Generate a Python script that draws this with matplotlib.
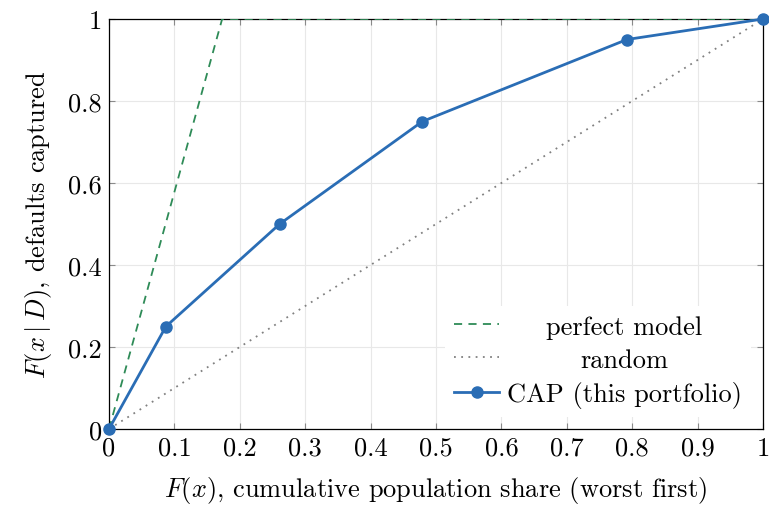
import matplotlib
matplotlib.use("Agg")
import matplotlib.pyplot as plt

# data
cap_x = [0.0, 0.087, 0.261, 0.479, 0.792, 1.0]
cap_y = [0.0, 0.25, 0.50, 0.75, 0.95, 1.0]
perfect_x = [0.0, 0.173, 1.0]
perfect_y = [0.0, 1.0, 1.0]
random_x = [0.0, 1.0]
random_y = [0.0, 1.0]
xticks = [0, 0.1, 0.2, 0.3, 0.4, 0.5, 0.6, 0.7, 0.8, 0.9, 1]
xticklabels = ["0", "0.1", "0.2", "0.3", "0.4", "0.5", "0.6", "0.7", "0.8", "0.9", "1"]
yticks = [0, 0.2, 0.4, 0.6, 0.8, 1]
yticklabels = ["0", "0.2", "0.4", "0.6", "0.8", "1"]
labels = ["perfect model", "random", "CAP (this portfolio)"]

plt.rcParams['font.family'] = 'serif'
plt.rcParams['font.serif'] = ['cmr10']
plt.rcParams['mathtext.fontset'] = 'cm'
plt.rcParams['axes.formatter.use_mathtext'] = True

FS = 19

fig = plt.figure(figsize=(7.69, 5.06), dpi=100)
ax = fig.add_axes([109/769, 1-430/506, (763-109)/769, (430-20)/506])

ax.plot(perfect_x, perfect_y, color='#2e8b57', lw=1.3, dashes=(4.5, 3.5), label=labels[0], zorder=3)
ax.plot(random_x, random_y, color='#808080', lw=1.3, linestyle=(0, (1, 3)), label=labels[1], zorder=3)
ax.plot(cap_x, cap_y, color='#2a6db5', lw=2.0, marker='o', markersize=8, label=labels[2],
        clip_on=False, zorder=4)

ax.set_xlim(0, 1)
ax.set_ylim(0, 1)
ax.set_xticks(xticks)
ax.set_xticklabels(xticklabels)
ax.set_yticks(yticks)
ax.set_yticklabels(yticklabels)
ax.grid(True, color='#e8e8e8', lw=0.8, zorder=0)
ax.set_axisbelow(True)
ax.tick_params(direction='in', length=4.5, width=0.8, color='#8a8a8a', top=True, right=True,
               labelsize=FS, pad=5)
for s in ax.spines.values():
    s.set_linewidth(0.9)
    s.set_color('black')

ax.set_xlabel(r"$F(x)$, cumulative population share (worst first)", fontsize=FS, labelpad=10)
ax.set_ylabel(r"$F(x \mid D)$, defaults captured", fontsize=FS, labelpad=10)

leg = ax.legend(loc='lower right', fontsize=FS, frameon=True, fancybox=False,
                edgecolor='none', facecolor='white', framealpha=1.0,
                handlelength=1.7, handletextpad=0.3, borderaxespad=0.45,
                labelspacing=0.35, borderpad=0.35)
leg.get_frame().set_linewidth(0)

# center legend texts in their column
fig.canvas.draw()
r = fig.canvas.get_renderer()
texts = leg.get_texts()
widths = [t.get_window_extent(r).width for t in texts]
wmax = max(widths)
for t, w in zip(texts, widths):
    t.set_position(((wmax - w) / 2, 0))

fig.savefig("out.png", dpi=100)
